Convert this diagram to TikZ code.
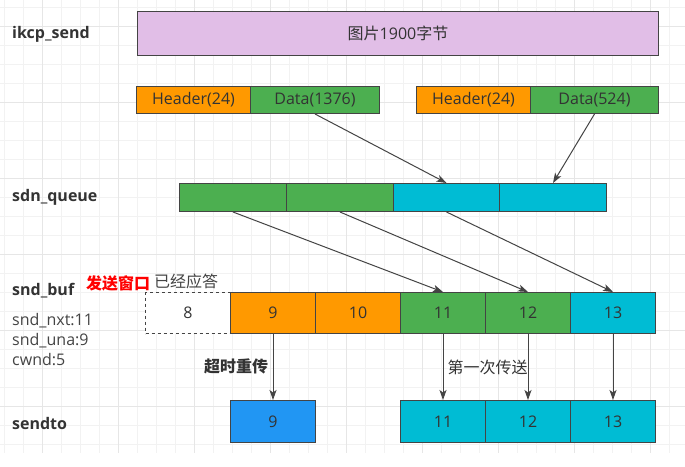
\documentclass[tikz,border=0pt]{standalone}
\usepackage{fontspec}
\setmainfont{Open Sans}
\newfontfamily\cjk{Noto Sans CJK SC}
\usetikzlibrary{arrows.meta}
\definecolor{purp}{HTML}{E1BEE7}
\definecolor{orng}{HTML}{FF9900}
\definecolor{grn}{HTML}{4CAF50}
\definecolor{cyn}{HTML}{00BCD4}
\definecolor{blu}{HTML}{2196F3}
\definecolor{bord}{HTML}{444444}
\definecolor{txt}{HTML}{333333}
\definecolor{lbltxt}{HTML}{444444}
\definecolor{redtxt}{HTML}{FF0000}
\definecolor{gminor}{HTML}{F2F2F2}
\definecolor{gmajor}{HTML}{E6E6E6}
\begin{document}
\begin{tikzpicture}[x=1pt,y=-1pt,
  cell/.style={draw=bord, line width=1pt, anchor=north west, inner sep=0pt, text=txt,
    font=\fontsize{16}{19}\selectfont},
  lbl/.style={anchor=west, inner sep=0pt, text=txt, font=\bfseries\fontsize{16}{19}\selectfont},
  note/.style={anchor=west, inner sep=0pt, text=lbltxt, font=\fontsize{16}{19}\selectfont},
  arr/.style={draw=bord, line width=1pt, -{Stealth[length=10pt,width=7pt,inset=2.5pt]}},
  gridminor/.style={draw=gminor, line width=0.9pt},
  gridmajor/.style={draw=gmajor, line width=0.9pt}]
\useasboundingbox (0,0) rectangle (685,466);
\fill[white] (0,0) rectangle (685,466);
% background grid
\foreach \k in {0,...,35} \draw[gridminor] ({4.7+19*\k},0) -- ({4.7+19*\k},453);
\foreach \k in {0,...,23} \draw[gridminor] (0,{7+19*\k}) -- (685,{7+19*\k});
\foreach \k in {0,...,8} \draw[gridmajor] ({42.7+76*\k},0) -- ({42.7+76*\k},453);
\foreach \k in {0,...,5} \draw[gridmajor] (0,{26+76*\k}) -- (685,{26+76*\k});

% row labels
\node[lbl] (lsend) at (12,34) {ikcp\_send};
\node[lbl] (lqueue) at (12,197) {sdn\_queue};
\node[lbl] (lbuf) at (12,291) {snd\_buf};
\node[lbl] (lto) at (12,423) {sendto};
\node[note] (nxt) at (12,321) {snd\_nxt:11};
\node[note] (una) at (12,341) {snd\_una:9};
\node[note] (cwnd) at (12,360) {cwnd:5};

% ikcp_send
\node[cell, fill=purp, minimum width=521pt, minimum height=44pt] (img) at (137,11) {{\cjk 图片}1900{\cjk 字节}};

% segments
\node[cell, fill=orng, minimum width=114pt, minimum height=27pt] (h1) at (136,86) {Header(24)};
\node[cell, fill=grn, minimum width=129pt, minimum height=27pt] (d1) at (250,86) {Data(1376)};
\node[cell, fill=orng, minimum width=114pt, minimum height=27pt] (h2) at (416,86) {Header(24)};
\node[cell, fill=grn, minimum width=128pt, minimum height=27pt] (d2) at (530,86) {Data(524)};

% sdn_queue
\node[cell, fill=grn, minimum width=107pt, minimum height=28pt] (q1) at (179,183) {};
\node[cell, fill=grn, minimum width=107pt, minimum height=28pt] (q2) at (286,183) {};
\node[cell, fill=cyn, minimum width=106pt, minimum height=28pt] (q3) at (393,183) {};
\node[cell, fill=cyn, minimum width=107pt, minimum height=28pt] (q4) at (499,183) {};

% snd_buf
\node[cell, fill=white, dash pattern=on 3pt off 3pt, minimum width=85pt, minimum height=41pt] (b8) at (145,292) {8};
\node[cell, fill=orng, minimum width=85pt, minimum height=41pt] (b9) at (230,292) {9};
\node[cell, fill=orng, minimum width=85pt, minimum height=41pt] (b10) at (315,292) {10};
\node[cell, fill=grn, minimum width=85pt, minimum height=41pt] (b11) at (400,292) {11};
\node[cell, fill=grn, minimum width=85pt, minimum height=41pt] (b12) at (485,292) {12};
\node[cell, fill=cyn, minimum width=85pt, minimum height=41pt] (b13) at (570,292) {13};

\node[anchor=west, inner sep=0pt, text=redtxt, font=\bfseries\fontsize{16}{19}\selectfont\cjk] (win) at (86,283) {发送窗口};
\node[note, font=\fontsize{16}{19}\selectfont\cjk] (acked) at (154,281) {已经应答};

% sendto
\node[cell, fill=blu, minimum width=85pt, minimum height=42pt] (s9) at (230,400) {9};
\node[cell, fill=cyn, minimum width=85pt, minimum height=42pt] (s11) at (400,400) {11};
\node[cell, fill=cyn, minimum width=85pt, minimum height=42pt] (s12) at (485,400) {12};
\node[cell, fill=cyn, minimum width=85pt, minimum height=42pt] (s13) at (570,400) {13};

% arrows
\draw[arr] (d1.south) -- (q3.north);
\draw[arr] (d2.south) -- (q4.north);
\draw[arr] (q1.south) -- (b11.north);
\draw[arr] (q2.south) -- (b12.north);
\draw[arr] (q3.south) -- (b13.north);
\draw[arr] (b9.south) -- (s9.north);
\draw[arr] (b11.south) -- (s11.north);
\draw[arr] (b12.south) -- (s12.north);
\draw[arr] (b13.south) -- (s13.north);

% arrow labels
\node[anchor=center, inner sep=0pt, text=txt, font=\bfseries\fontsize{16}{19}\selectfont\cjk] (retx) at (236,366) {超时重传};
\node[anchor=center, inner sep=0pt, text=txt, font=\fontsize{16}{19}\selectfont\cjk] (first) at (487.5,367) {第一次传送};
\end{tikzpicture}
\end{document}
